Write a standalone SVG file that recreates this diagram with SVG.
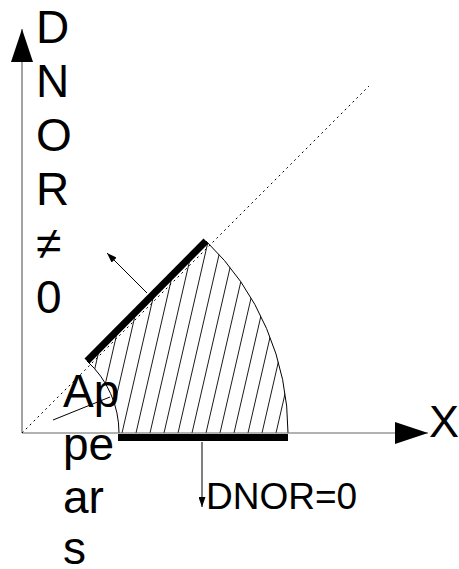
<svg xmlns="http://www.w3.org/2000/svg" width="459" height="569" viewBox="0 0 459 569">
<style>
.t{font-family:"Liberation Sans",Arial,sans-serif;fill:#000}
.big{font-size:46px}
.axis{stroke:#666;stroke-width:1.2;fill:none}
.thin{stroke:#000;stroke-width:1;fill:none}
.thick{stroke:#000;stroke-width:7;fill:none}
.hatch{stroke:#000;stroke-width:0.9}
</style>
<defs>
<marker id="bigArrow" markerUnits="userSpaceOnUse" markerWidth="34" markerHeight="22" refX="33" refY="11" orient="auto">
<path d="M0,0 L33,11 L0,22 Z" fill="#000"/>
</marker>
<marker id="smallArrow" markerUnits="userSpaceOnUse" markerWidth="11" markerHeight="7" refX="10" refY="3.5" orient="auto">
<path d="M0,0 L10,3.5 L0,7 Z" fill="#000"/>
</marker>
<clipPath id="region">
<path d="M119,433 L288,433 A266,266 0 0 0 206,241 L87,361 A97,97 0 0 1 119,433 Z"/>
</clipPath>
</defs>

<g id="hatching" clip-path="url(#region)">
<line class="hatch" x1="80" y1="433" x2="126.7" y2="230"/>
<line class="hatch" x1="94" y1="433" x2="140.7" y2="230"/>
<line class="hatch" x1="108" y1="433" x2="154.7" y2="230"/>
<line class="hatch" x1="122" y1="433" x2="168.7" y2="230"/>
<line class="hatch" x1="136" y1="433" x2="182.7" y2="230"/>
<line class="hatch" x1="150" y1="433" x2="196.7" y2="230"/>
<line class="hatch" x1="164" y1="433" x2="210.7" y2="230"/>
<line class="hatch" x1="178" y1="433" x2="224.7" y2="230"/>
<line class="hatch" x1="192" y1="433" x2="238.7" y2="230"/>
<line class="hatch" x1="206" y1="433" x2="252.7" y2="230"/>
<line class="hatch" x1="220" y1="433" x2="266.7" y2="230"/>
<line class="hatch" x1="234" y1="433" x2="280.7" y2="230"/>
<line class="hatch" x1="248" y1="433" x2="294.7" y2="230"/>
<line class="hatch" x1="262" y1="433" x2="308.7" y2="230"/>
<line class="hatch" x1="276" y1="433" x2="322.7" y2="230"/>
</g>

<g id="region-outline">
<path class="thin" d="M288,433 A266,266 0 0 0 206,241"/>
<path class="thin" d="M87,361 A97,97 0 0 1 119,433"/>
</g>

<g id="connectors">
<line id="y-axis" class="axis" x1="22" y1="433" x2="22" y2="29" marker-end="url(#bigArrow)"/>
<line id="x-axis" class="axis" x1="22" y1="433" x2="428" y2="433" marker-end="url(#bigArrow)"/>
<line id="diagonal" class="thin" x1="22" y1="433" x2="369" y2="86" stroke-width="1.3" stroke-dasharray="2 3.5"/>
<line id="normal-diag" class="thin" x1="147" y1="293" x2="107" y2="253" marker-end="url(#smallArrow)"/>
<line id="normal-bottom" class="thin" x1="202" y1="442" x2="202" y2="507" marker-end="url(#smallArrow)"/>
<line id="appears-leader" class="thin" x1="53" y1="420" x2="110" y2="397"/>
</g>

<g id="boundary-diag">
<line class="thick" x1="87" y1="361" x2="206" y2="241"/>
</g>
<g id="boundary-bottom">
<line class="thick" x1="118" y1="437.5" x2="288" y2="437.5"/>
</g>

<g id="label-y">
<text class="t big" x="36" y="43">D</text>
<text class="t big" x="36" y="97">N</text>
<text class="t big" x="36" y="151">O</text>
<text class="t big" x="36" y="205">R</text>
<text class="t big" x="36" y="259">≠</text>
<text class="t big" x="36" y="313">0</text>
</g>

<g id="label-x">
<text class="t" x="429" y="437" font-size="45">X</text>
</g>

<g id="label-appears">
<text class="t big" x="63" y="407">Ap</text>
<text class="t big" x="63" y="460">pe</text>
<text class="t big" x="63" y="513">ar</text>
<text class="t big" x="63" y="564">s</text>
</g>

<g id="label-dnor0">
<text class="t" x="206" y="509" font-size="37">DNOR=0</text>
</g>
</svg>
